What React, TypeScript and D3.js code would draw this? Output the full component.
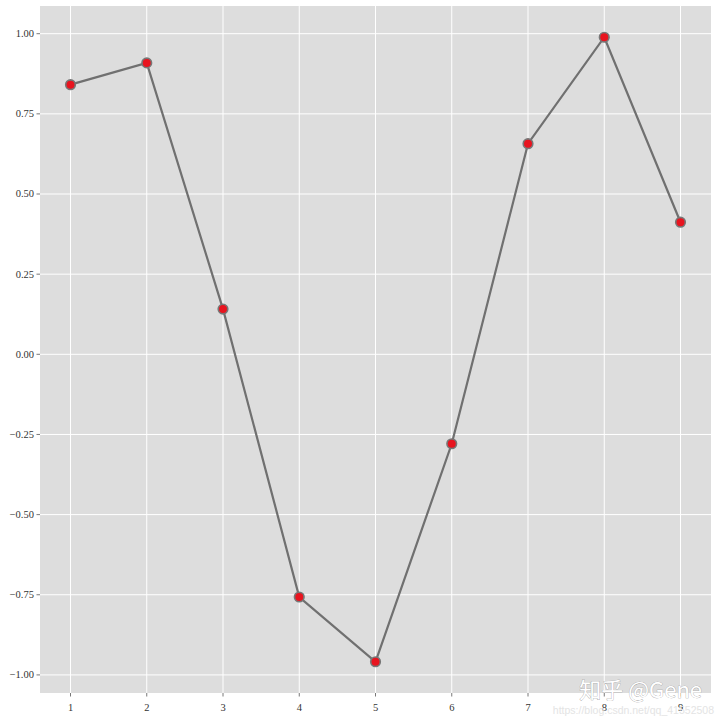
import * as d3 from "d3";

const xs = [1, 2, 3, 4, 5, 6, 7, 8, 9];
const ys = [0.841, 0.909, 0.141, -0.757, -0.959, -0.279, 0.657, 0.989, 0.412];
const xTicks = [1, 2, 3, 4, 5, 6, 7, 8, 9];
const yTicks = [-1, -0.75, -0.5, -0.25, 0, 0.25, 0.5, 0.75, 1];

export default function App() {
  const width = 720;
  const height = 720;
  const left = 40;
  const right = 711;
  const top = 6;
  const bottom = 693;

  const x = d3.scaleLinear().domain([0.6, 9.4]).range([left, right]);
  const yMin = d3.min(ys)!;
  const yMax = d3.max(ys)!;
  const pad = (yMax - yMin) * 0.05;
  const y = d3.scaleLinear().domain([yMin - pad, yMax + pad]).range([bottom, top]);

  const line = d3
    .line<number>()
    .x((_, i) => x(xs[i]))
    .y((d) => y(d));

  const fmt = (v: number) => d3.format(".2f")(v).replace("-", "\u2212");

  return (
    <svg
      width={width}
      height={height}
      style={{ position: "absolute", left: 0, top: 0, background: "#fff" }}
      fontFamily="'Liberation Serif', 'DejaVu Serif', serif"
    >
      <rect x={left} y={top} width={right - left} height={bottom - top} fill="#dddddd" />
      {xTicks.map((t) => (
        <g key={`x${t}`}>
          <line x1={x(t)} x2={x(t)} y1={top} y2={bottom} stroke="#fff" strokeWidth={1} />
          <line x1={x(t)} x2={x(t)} y1={bottom} y2={bottom + 3.5} stroke="#555" strokeWidth={0.8} />
          <text x={x(t)} y={bottom + 18} textAnchor="middle" fontSize={10.5} fill="#333">
            {t}
          </text>
        </g>
      ))}
      {yTicks.map((t) => (
        <g key={`y${t}`}>
          <line x1={left} x2={right} y1={y(t)} y2={y(t)} stroke="#fff" strokeWidth={1} />
          <line x1={left - 3.5} x2={left} y1={y(t)} y2={y(t)} stroke="#555" strokeWidth={0.8} />
          <text x={left - 6} y={y(t)} dy="0.33em" textAnchor="end" fontSize={10.5} fill="#333">
            {fmt(t)}
          </text>
        </g>
      ))}
      <path d={line(ys) ?? ""} fill="none" stroke="#707070" strokeWidth={2.2} />
      {ys.map((v, i) => (
        <circle key={i} cx={x(xs[i])} cy={y(v)} r={4.8} fill="#e8141f" stroke="#777" strokeWidth={1.6} />
      ))}
      <text
        x={702}
        y={698}
        textAnchor="end"
        fontSize={22}
        fontFamily="'Noto Sans CJK SC', 'Noto Sans', sans-serif"
        fill="#fff"
        stroke="#999"
        strokeWidth={0.6}
        paintOrder="stroke"
      >
        知乎 @Gene
      </text>
      <text
        x={714}
        y={714}
        textAnchor="end"
        fontSize={10.5}
        fontFamily="'Liberation Sans', sans-serif"
        fill="#e4e4e4"
      >
        https://blog.csdn.net/qq_41552508
      </text>
    </svg>
  );
}
